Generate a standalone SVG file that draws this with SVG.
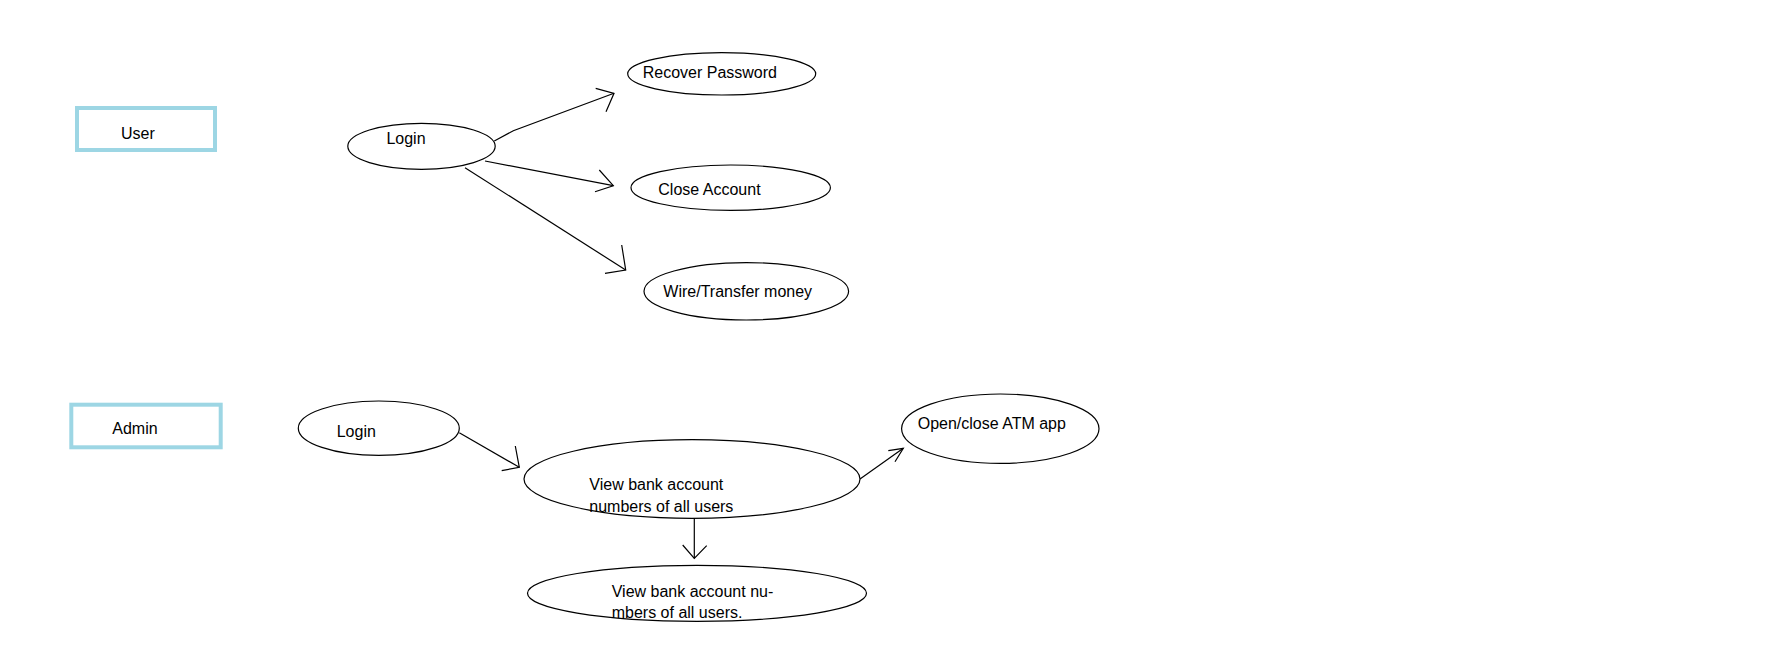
<svg xmlns="http://www.w3.org/2000/svg" width="1780" height="648" viewBox="0 0 1780 648">
<style>
.actor{fill:#ffffff;stroke:#9dd6e4;stroke-width:4}
.uc{fill:#ffffff;stroke:#000000;stroke-width:1.2}
.t{font-family:"Liberation Sans",Arial,sans-serif;font-size:16px;fill:#000000}
.c{fill:none;stroke:#000000;stroke-width:1.2;stroke-linejoin:miter}
</style>
<rect width="1780" height="648" fill="#ffffff"/>
<g id="connectors">
<path class="c" d="M494.3,141 L513.3,130.7 L614,93.3"/>
<path class="c" d="M595.7,88.3 L614,93.3 L606,111.7"/>
<path class="c" d="M485,161 L613.3,185.7"/>
<path class="c" d="M599.3,170 L613.3,185.7 L595,191.7"/>
<path class="c" d="M465,167.7 L625.7,270"/>
<path class="c" d="M621.7,245 L625.7,270 L605,273.3"/>
<path class="c" d="M459.3,432.7 L519.3,467.3"/>
<path class="c" d="M515.3,446 L519.3,467.3 L501.7,470.7"/>
<path class="c" d="M860,479 L903.3,448.3"/>
<path class="c" d="M888.3,450.7 L903.3,448.3 L895,461.7"/>
<path class="c" d="M694.3,518.3 L694.3,558.3"/>
<path class="c" d="M682.7,545 L694.3,558.3 L706.7,545.7"/>
</g>
<g id="user">
<rect class="actor" x="77" y="108" width="138" height="42"/>
<text class="t" x="121" y="139.3">User</text>
</g>
<g id="user-login">
<ellipse class="uc" cx="421.5" cy="146.3" rx="73.7" ry="23"/>
<text class="t" x="386.4" y="144">Login</text>
</g>
<g id="recover-password">
<ellipse class="uc" cx="721.7" cy="73.8" rx="94" ry="21.2"/>
<text class="t" x="642.7" y="78.3">Recover Password</text>
</g>
<g id="close-account">
<ellipse class="uc" cx="730.7" cy="187.7" rx="99.7" ry="22.7"/>
<text class="t" x="658.3" y="195">Close Account</text>
</g>
<g id="wire-transfer">
<ellipse class="uc" cx="746.3" cy="291.3" rx="102.3" ry="28.7"/>
<text class="t" x="663.3" y="297.3">Wire/Transfer money</text>
</g>
<g id="admin">
<rect class="actor" x="71.3" y="404.7" width="149.4" height="42.6"/>
<text class="t" x="112.3" y="434">Admin</text>
</g>
<g id="admin-login">
<ellipse class="uc" cx="378.8" cy="428.2" rx="80.5" ry="27.2"/>
<text class="t" x="336.7" y="437.3">Login</text>
</g>
<g id="view-accounts">
<ellipse class="uc" cx="692" cy="479" rx="168" ry="39.3"/>
<text class="t" x="589.3" y="490">View bank account</text>
<text class="t" x="589.3" y="511.7">numbers of all users</text>
</g>
<g id="open-close-atm">
<ellipse class="uc" cx="1000.3" cy="428.7" rx="98.7" ry="34.7"/>
<text class="t" x="917.7" y="429.3">Open/close ATM app</text>
</g>
<g id="view-accounts-2">
<ellipse class="uc" cx="697" cy="593.3" rx="169.5" ry="28"/>
<text class="t" x="611.7" y="596.7">View bank account nu-</text>
<text class="t" x="611.7" y="618.3">mbers of all users.</text>
</g>
</svg>
